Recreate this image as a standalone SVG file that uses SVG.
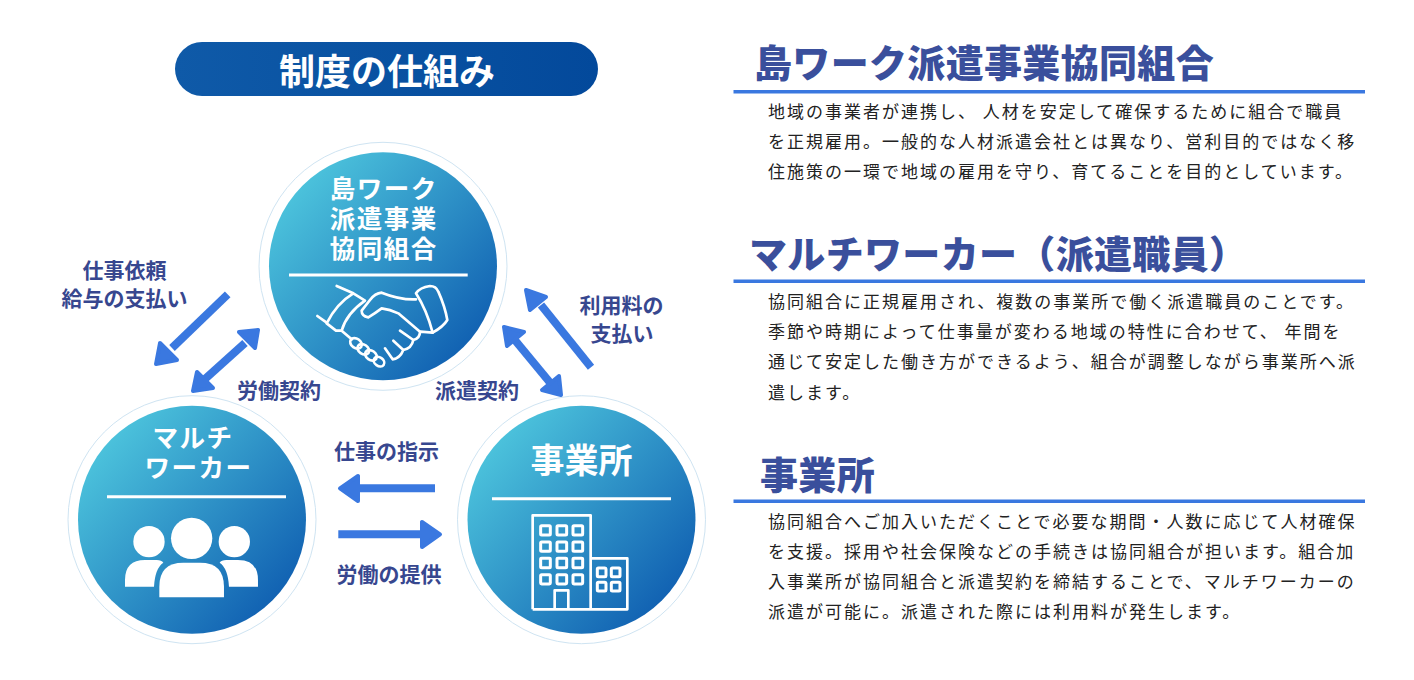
<svg xmlns="http://www.w3.org/2000/svg" width="1414" height="680" viewBox="0 0 1414 680">
<defs>
<linearGradient id="g" x1="0.12" y1="0.15" x2="0.88" y2="0.85"><stop offset="0" stop-color="#4cc3dc"/><stop offset="1" stop-color="#1161b2"/></linearGradient>
<linearGradient id="p" x1="0" y1="0" x2="1" y2="0"><stop offset="0" stop-color="#0f5aa8"/><stop offset="1" stop-color="#03499b"/></linearGradient>
</defs>
<style>
text{font-family:"Noto Sans CJK JP","Noto Sans",sans-serif}
.ring{fill:#fff;stroke:#cfe4f2;stroke-width:1}
.disc{fill:url(#g)}
.cw{fill:#fff;font-weight:700;text-anchor:middle}
.cs{font-size:25.5px;letter-spacing:1.5px}
.rule{stroke:#fff;stroke-width:3;fill:none}
.lb{fill:#37478f;font-weight:700;font-size:21px;text-anchor:middle}
.hd{fill:#3a4f9c;font-weight:900;font-size:38px;letter-spacing:.33px}
.bd{fill:#222;font-size:17px;letter-spacing:2px}
.hr{fill:#3a78e0}
.ln{stroke:#3a78e0;stroke-width:8;fill:none}
.hdx{fill:#3a78e0;stroke:#3a78e0;stroke-width:4;stroke-linejoin:round}
.ic{fill:none;stroke:#fff;stroke-width:8;stroke-linejoin:round;stroke-linecap:round}
.win{fill:none;stroke:#fff;stroke-width:9}
</style>
<rect width="1414" height="680" fill="#fff"/>
<g id="title">
<rect x="175" y="42" width="423" height="54" rx="27" fill="url(#p)"/>
<text x="387" y="85" font-size="36" class="cw">制度の仕組み</text>
</g>
<g id="connectors">
<line class="ln" x1="227.7" y1="294.3" x2="172" y2="348"/>
<polygon class="hdx" points="156,364 177,360 160,343"/>
<line class="ln" x1="245" y1="343" x2="205" y2="379"/>
<polygon class="hdx" points="258,330 239,332 255,348"/>
<polygon class="hdx" points="193,391 197,372 213,388"/>
<line class="ln" x1="591" y1="367.3" x2="541" y2="305"/>
<polygon class="hdx" points="526,290 546,297 530,310"/>
<line class="ln" x1="514" y1="339" x2="552" y2="385"/>
<polygon class="hdx" points="504,327 524,332 507,346"/>
<polygon class="hdx" points="561,395 559,376 542,390"/>
<line class="ln" x1="435" y1="488.3" x2="355" y2="488.3"/>
<polygon class="hdx" points="340,488.3 358,476 358,501"/>
<line class="ln" x1="338.3" y1="534.3" x2="425" y2="534.3"/>
<polygon class="hdx" points="440,534.3 422,522 422,547"/>
</g>
<g id="node-kumiai">
<circle class="ring" cx="383" cy="266.3" r="124"/>
<circle class="disc" cx="383" cy="266.3" r="114"/>
<text class="cw cs"><tspan x="383.7" y="197.5">島ワーク</tspan><tspan x="383.7" y="227.5">派遣事業</tspan><tspan x="383.7" y="257.5">協同組合</tspan></text>
<line class="rule" x1="289" y1="275" x2="467.7" y2="275"/>
<g transform="translate(310 280) scale(.3333)">
<path class="ic" d="M318,40 Q330,22 360,18 Q378,18 385,35 Q405,80 412,120 Q400,140 368,158 Q350,90 318,40 Z"/>
<path class="ic" d="M80,18 L130,40 L165,62 Q110,100 95,152 L78,152 L50,130 Q80,70 130,40"/>
<path class="ic" d="M22,108 L50,128"/>
<path class="ic" d="M318,58 Q270,60 215,38 Q195,40 180,60 L155,92 Q155,108 175,112 Q195,100 215,85 Q240,88 265,100 L330,155 Q330,175 310,180 L270,152 M310,180 Q305,205 280,210 L250,182 M280,210 Q270,235 248,238 L225,205 M368,158 L332,155 M95,152 L125,178"/>
<ellipse class="ic" cx="138" cy="190" rx="19" ry="14" transform="rotate(35 138 190)"/>
<ellipse class="ic" cx="160" cy="208" rx="19" ry="14" transform="rotate(35 160 208)"/>
<ellipse class="ic" cx="183" cy="226" rx="19" ry="14" transform="rotate(35 183 226)"/>
<ellipse class="ic" cx="207" cy="245" rx="17" ry="13" transform="rotate(35 207 245)"/>
</g>
</g>
<g id="node-worker">
<circle class="ring" cx="192" cy="519.7" r="124"/>
<circle class="disc" cx="192" cy="519.7" r="114"/>
<text class="cw cs"><tspan x="193" y="447">マルチ</tspan><tspan x="198.5" y="477">ワーカー</tspan></text>
<line class="rule" x1="107" y1="496.7" x2="286" y2="496.7"/>
<g transform="translate(60 390) scale(.3333)" fill="#fff">
<circle cx="267" cy="455" r="47"/><circle cx="395" cy="445" r="62"/><circle cx="523" cy="455" r="47"/>
<path d="M298,622 V590 Q298,518 370,518 H420 Q492,518 492,590 V622 Z"/>
<path d="M195,590 V570 Q195,510 255,510 H290 Q305,510 310,518 Q285,535 282,590 Z"/>
<path d="M594,590 V570 Q594,510 534,510 H499 Q484,510 479,518 Q504,535 507,590 Z"/>
</g>
</g>
<g id="node-office">
<circle class="ring" cx="581.5" cy="519.7" r="124"/>
<circle class="disc" cx="581.5" cy="519.7" r="114"/>
<text x="581.5" y="473" font-size="34" class="cw">事業所</text>
<line class="rule" x1="492" y1="498.7" x2="671" y2="498.7"/>
<g transform="translate(450 390) scale(.3333)">
<path class="ic" style="stroke-linecap:butt" d="M248,658 V376 H422 V658 M422,505 H532 V658 H248 M314,658 V601 H355 V658"/>
<g class="win">
<rect x="272" y="407" width="29" height="28" rx="3"/><rect x="321" y="407" width="29" height="28" rx="3"/><rect x="369" y="407" width="29" height="28" rx="3"/>
<rect x="272" y="456" width="29" height="28" rx="3"/><rect x="321" y="456" width="29" height="28" rx="3"/><rect x="369" y="456" width="29" height="28" rx="3"/>
<rect x="272" y="505" width="29" height="28" rx="3"/><rect x="321" y="505" width="29" height="28" rx="3"/><rect x="369" y="505" width="29" height="28" rx="3"/>
<rect x="272" y="554" width="29" height="28" rx="3"/><rect x="321" y="554" width="29" height="28" rx="3"/><rect x="369" y="554" width="29" height="28" rx="3"/>
<rect x="442" y="534" width="26" height="26" rx="3"/><rect x="484" y="534" width="26" height="26" rx="3"/>
<rect x="442" y="577" width="26" height="26" rx="3"/><rect x="484" y="577" width="26" height="26" rx="3"/>
</g>
</g>
</g>
<g id="labels">
<text class="lb" x="124.5" y="278">仕事依頼</text>
<text class="lb" x="124.5" y="306">給与の支払い</text>
<text class="lb" x="279" y="398">労働契約</text>
<text class="lb" x="477" y="398">派遣契約</text>
<text class="lb" x="621.5" y="313">利用料の</text>
<text class="lb" x="622" y="341">支払い</text>
<text class="lb" x="386.5" y="459">仕事の指示</text>
<text class="lb" x="389" y="582">労働の提供</text>
</g>
<g id="panel-1">
<text class="hd" x="754" y="77">島ワーク派遣事業協同組合</text>
<rect class="hr" x="733.5" y="90" width="631.5" height="3.5"/>
<text class="bd" x="768" y="118">地域の事業者が連携し、 人材を安定して確保するために組合で職員</text>
<text class="bd" x="768" y="148">を正規雇用。一般的な人材派遣会社とは異なり、営利目的ではなく移</text>
<text class="bd" x="768" y="178">住施策の一環で地域の雇用を守り、育てることを目的としています。</text>
</g>
<g id="panel-2">
<text class="hd" x="749" y="268">マルチワーカー（派遣職員）</text>
<rect class="hr" x="733.5" y="279.5" width="631.5" height="3.5"/>
<text class="bd" x="768" y="308">協同組合に正規雇用され、複数の事業所で働く派遣職員のことです。</text>
<text class="bd" x="768" y="338">季節や時期によって仕事量が変わる地域の特性に合わせて、 年間を</text>
<text class="bd" x="768" y="368">通じて安定した働き方ができるよう、組合が調整しながら事業所へ派</text>
<text class="bd" x="768" y="399">遣します。</text>
</g>
<g id="panel-3">
<text class="hd" x="760" y="489">事業所</text>
<rect class="hr" x="733.5" y="499.5" width="631.5" height="3.5"/>
<text class="bd" x="768" y="528">協同組合へご加入いただくことで必要な期間・人数に応じて人材確保</text>
<text class="bd" x="768" y="558">を支援。採用や社会保険などの手続きは協同組合が担います。組合加</text>
<text class="bd" x="768" y="588">入事業所が協同組合と派遣契約を締結することで、マルチワーカーの</text>
<text class="bd" x="768" y="618">派遣が可能に。派遣された際には利用料が発生します。</text>
</g>
</svg>
